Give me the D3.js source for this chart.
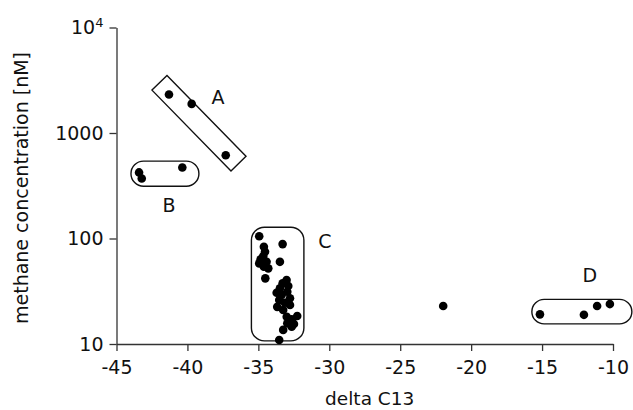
<!DOCTYPE html>
<html>
<head>
<meta charset="utf-8">
<script src="https://cdn.jsdelivr.net/npm/d3@7/dist/d3.min.js"></script>
<style>
  body { margin: 0; background: #fff; }
  svg { display: block; }
  text { font-family: "DejaVu Sans", "Noto Sans", sans-serif; fill: #111; }
</style>
</head>
<body>
<svg id="chart" width="633" height="410"></svg>
<script>
// ---- data ----
const xTicks = [-45, -40, -35, -30, -25, -20, -15, -10];
const yTicks = [10, 100, 1000, 10000];
const xTitle = "delta C13";
const yTitle = "methane concentration [nM]";

const groupA = [[-41.3, 2317], [-39.7, 1887], [-37.3, 616]];
const groupB = [[-43.41, 423], [-43.22, 371], [-40.36, 471]];
const groupC = [
  [-34.94, 105], [-33.29, 88.5], [-34.61, 83.4], [-34.53, 74.8], [-34.65, 68.1],
  [-34.84, 63.4], [-34.94, 58.1], [-34.42, 60.1], [-34.61, 54.0], [-34.30, 52.1],
  [-33.48, 60.1], [-34.51, 41.9], [-33.01, 40.4], [-33.29, 37.6], [-32.89, 35.4],
  [-32.96, 31.3], [-33.71, 30.6], [-33.36, 29.1], [-33.53, 26.1], [-33.13, 24.6],
  [-33.67, 22.5], [-32.77, 23.4], [-33.25, 21.0], [-32.26, 18.4], [-32.65, 17.1],
  [-32.96, 15.7], [-32.65, 14.6], [-33.25, 13.6], [-33.53, 10.9],
  [-33.48, 33.7], [-32.77, 27.1], [-33.0, 18.1], [-32.49, 15.5]
];
const ungrouped = [[-21.97, 22.9]];
const groupD = [[-15.15, 19.1], [-12.05, 18.9], [-11.12, 22.9], [-10.22, 23.9]];

// group labels: [label, x, y]
const groupLabels = [["A", -37.85, 2183], ["B", -41.3, 207], ["C", -30.31, 94.4], ["D", -11.63, 45]];
// enclosures (data coordinates)
const boxA = { from: [-41.97, 2992], to: [-36.4, 512] };          // rotated rectangle axis
const roundBoxes = [
  { x0: -43.98, x1: -39.19, y0: 313, y1: 541 },   // B
  { x0: -35.49, x1: -31.79, y0: 10.7, y1: 128 },  // C
  { x0: -15.72, x1: -8.67, y0: 15.5, y1: 26.5 }   // D
];

// ---- layout ----
const W = 633, H = 410;
const margin = { left: 116.5, right: 20, top: 27.5, bottom: 66 };
const svg = d3.select("#chart");

const x = d3.scaleLinear().domain([-45, -10]).range([margin.left, W - margin.right]);
const y = d3.scaleLog().domain([10, 10000]).range([H - margin.bottom, margin.top]);

const axisColor = "#333";

// x axis
const gx = svg.append("g")
  .attr("transform", `translate(0,${H - margin.bottom})`)
  .call(d3.axisBottom(x).tickValues(xTicks).tickSize(7).tickSizeOuter(0).tickPadding(10)
    .tickFormat(d => d));
gx.selectAll("text").style("font-size", "19px").text(d => d < 0 ? "-" + Math.abs(d) : d);

// y axis
const gy = svg.append("g")
  .attr("transform", `translate(${margin.left},0)`)
  .call(d3.axisLeft(y).tickValues(yTicks).tickSize(7).tickSizeOuter(0).tickPadding(6)
    .tickFormat(() => ""));
gy.selectAll(".tick text").each(function(d) {
  const t = d3.select(this).style("font-size", "19px");
  if (d === 10000) {
    t.text("10");
    t.append("tspan").attr("dy", "-0.55em").style("font-size", "13px").text("4");
  } else {
    t.text(d);
  }
});

[gx, gy].forEach(g => {
  g.select(".domain").attr("stroke", axisColor).attr("stroke-width", 1.3);
  g.selectAll(".tick line").attr("stroke", axisColor).attr("stroke-width", 1.3);
  g.selectAll("text").attr("fill", "#111");
});

// axis titles
svg.append("text")
  .attr("x", x(-27.15)).attr("y", 405)
  .attr("text-anchor", "middle")
  .style("font-size", "18.5px")
  .text(xTitle);
svg.append("text")
  .attr("transform", `translate(28,188) rotate(-90)`)
  .attr("text-anchor", "middle")
  .style("font-size", "19px")
  .text(yTitle);

// enclosures
const p1 = [x(boxA.from[0]), y(boxA.from[1])];
const p2 = [x(boxA.to[0]), y(boxA.to[1])];
const dx = p2[0] - p1[0], dy = p2[1] - p1[1];
const len = Math.hypot(dx, dy);
const hw = 10.5;
const nx = -dy / len * hw, ny = dx / len * hw;
svg.append("polygon")
  .attr("points", [
    [p1[0] + nx, p1[1] + ny], [p1[0] - nx, p1[1] - ny],
    [p2[0] - nx, p2[1] - ny], [p2[0] + nx, p2[1] + ny]
  ].map(p => p.join(",")).join(" "))
  .attr("fill", "none").attr("stroke", "#111").attr("stroke-width", 1.4);

svg.selectAll("rect.encl").data(roundBoxes).enter().append("rect")
  .attr("class", "encl")
  .attr("x", d => x(d.x0))
  .attr("y", d => y(d.y1))
  .attr("width", d => x(d.x1) - x(d.x0))
  .attr("height", d => y(d.y0) - y(d.y1))
  .attr("rx", d => Math.min(13, (y(d.y0) - y(d.y1)) / 2))
  .attr("fill", "none").attr("stroke", "#111").attr("stroke-width", 1.4);

// labels
svg.selectAll("text.glabel").data(groupLabels).enter().append("text")
  .attr("class", "glabel")
  .attr("x", d => x(d[1])).attr("y", d => y(d[2]))
  .attr("text-anchor", "middle").attr("dominant-baseline", "central")
  .style("font-size", "19px")
  .text(d => d[0]);

// points
const allPts = [].concat(groupA, groupB, groupC, ungrouped, groupD);
svg.selectAll("circle.pt").data(allPts).enter().append("circle")
  .attr("class", "pt")
  .attr("cx", d => x(d[0])).attr("cy", d => y(d[1]))
  .attr("r", 4.3)
  .attr("fill", "#000");
</script>
</body>
</html>
